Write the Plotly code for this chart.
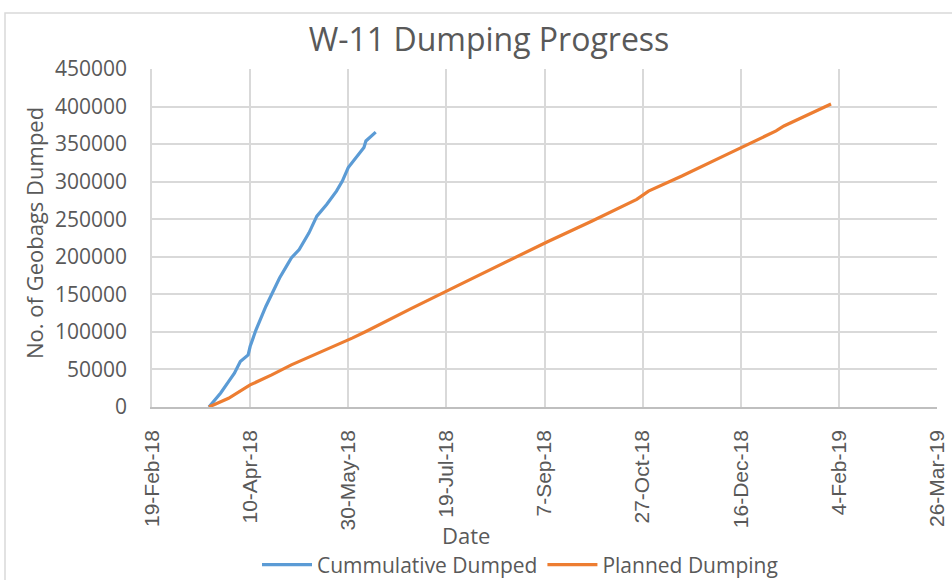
import plotly.graph_objects as go

# Cumulative Dumped
cum_dates = ["2018-03-20", "2018-03-26", "2018-03-30", "2018-04-02", "2018-04-05",
             "2018-04-09", "2018-04-10", "2018-04-13", "2018-04-18", "2018-04-21",
             "2018-04-25", "2018-04-29", "2018-05-01", "2018-05-05", "2018-05-10",
             "2018-05-14", "2018-05-19", "2018-05-24", "2018-05-27", "2018-05-30",
             "2018-06-04", "2018-06-07", "2018-06-08", "2018-06-13"]
cum_values = [0, 18700, 33800, 45000, 60500,
              69400, 80500, 102800, 133900, 149500,
              171800, 189600, 198500, 209600, 231900,
              254100, 269700, 287400, 300800, 318700,
              336400, 345400, 354200, 366000]

# Planned Dumping
plan_dates = ["2018-03-20", "2018-03-30", "2018-04-10", "2018-04-21", "2018-05-01",
              "2018-05-15", "2018-06-01", "2018-06-08", "2018-06-18", "2018-07-01",
              "2018-07-24", "2018-08-16", "2018-08-24", "2018-09-08", "2018-10-01",
              "2018-10-24", "2018-10-30", "2018-11-16", "2018-12-09", "2018-12-17",
              "2019-01-03", "2019-01-07", "2019-01-31"]
plan_values = [0, 11600, 29400, 42700, 56100,
               71700, 91700, 100500, 113900, 131000,
               160600, 189600, 200700, 219400, 247400,
               276400, 287400, 307500, 336400, 346700,
               367600, 374200, 403500]

x_tick_start = "2018-02-19"
x_range = ["2018-02-19", "2019-03-26"]
y_ticks = [0, 50000, 100000, 150000, 200000, 250000, 300000, 350000, 400000, 450000]

grey = "#595959"
FONT = "Open Sans"
L, R, T, B = 152, 937, 69, 407
W, H = 952, 580
pw, ph = R - L, B - T


def px(x):
    return (x - L) / pw


def py(y):
    return (B - y) / ph


fig = go.Figure()
fig.add_trace(go.Scatter(x=cum_dates, y=cum_values, mode="lines",
                         name="Cummulative Dumped",
                         line=dict(color="#5B9BD5", width=3.2)))
fig.add_trace(go.Scatter(x=plan_dates, y=plan_values, mode="lines",
                         name="Planned Dumping",
                         line=dict(color="#ED7D31", width=3.2)))

fig.update_layout(
    width=W, height=H,
    margin=dict(l=L, r=W - R, t=T, b=H - B, autoexpand=False),
    paper_bgcolor="white", plot_bgcolor="white",
    font=dict(family=FONT, color=grey),
    showlegend=True,
    legend=dict(orientation="h", x=px(520), xanchor="center", y=py(565), yanchor="middle",
                font=dict(size=21, family=FONT, color=grey), itemwidth=50,
                tracegroupgap=0, bgcolor="rgba(0,0,0,0)"),
    title=dict(text="W-11 Dumping Progress", x=(489) / W, xanchor="center", xref="container",
               y=1 - 40 / H, yanchor="middle", yref="container",
               font=dict(size=32, family=FONT, color=grey), automargin=False),
)
fig.update_xaxes(type="date", range=x_range, tick0=x_tick_start, dtick=50 * 86400000,
                 tickformat="%-d-%b-%y", tickangle=-90,
                 tickfont=dict(size=21, family="Liberation Sans", color=grey),
                 showgrid=True, gridcolor="#d9d9d9", gridwidth=1.5,
                 showline=True, linecolor="#bfbfbf", linewidth=1.5, ticks="",
                 zeroline=False, automargin=False, ticklabelstandoff=13)
fig.update_yaxes(range=[0, 450000], tickvals=y_ticks,
                 ticktext=[str(v) for v in y_ticks],
                 tickfont=dict(size=21, family=FONT, color=grey),
                 showgrid=True, gridcolor="#d9d9d9", gridwidth=1.5,
                 showline=True, linecolor="#d9d9d9", linewidth=1.5, ticks="",
                 zeroline=False, ticklabelstandoff=19, automargin=False)

fig.add_annotation(text="No. of Geobags Dumped", xref="paper", yref="paper",
                   x=px(34), y=py(233), textangle=-90, showarrow=False,
                   xanchor="center", yanchor="middle",
                   font=dict(size=22, family=FONT, color=grey))
fig.add_annotation(text="Date", xref="paper", yref="paper",
                   x=px(466), y=py(535), showarrow=False,
                   xanchor="center", yanchor="middle",
                   font=dict(size=22, family=FONT, color=grey))
# chart area border
fig.add_shape(type="rect", xref="paper", yref="paper",
              x0=px(5), x1=px(960), y0=py(600), y1=py(13),
              line=dict(color="#d9d9d9", width=1.5), layer="below")

fig.write_html("out.html", config={"displayModeBar": False},
               post_script="document.body.style.margin='0';document.body.style.overflow='hidden';")
